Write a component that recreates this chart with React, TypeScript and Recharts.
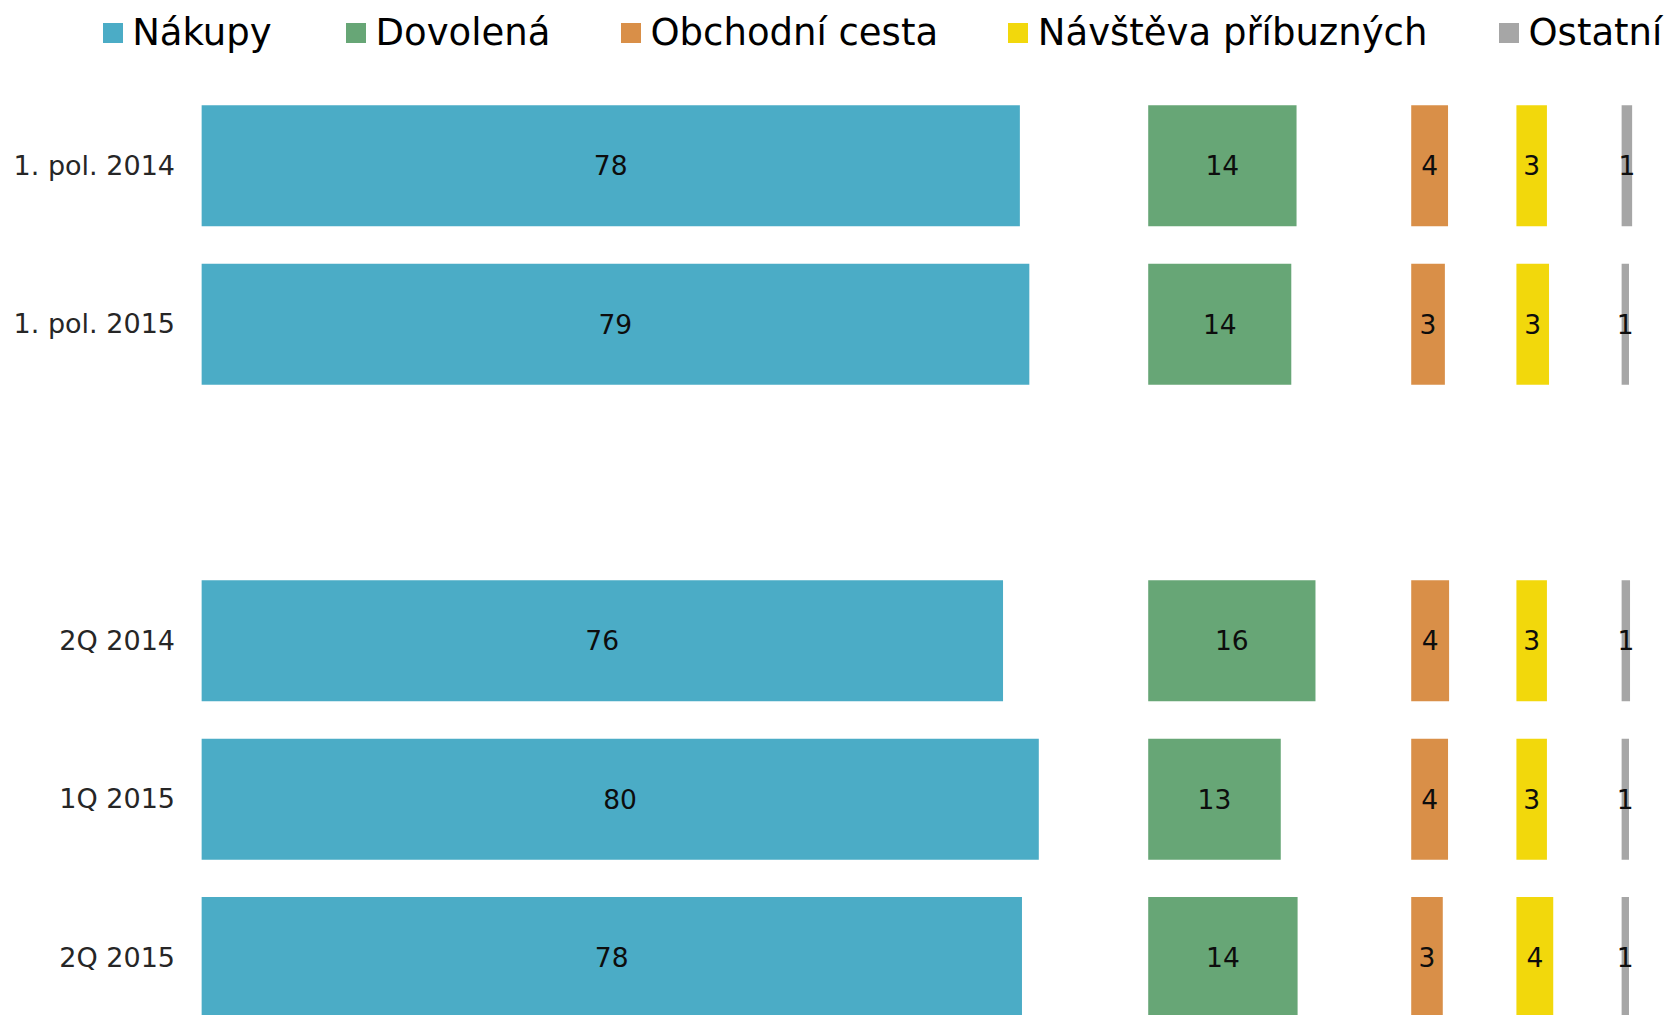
import React from 'react';
import { BarChart, Bar, XAxis, YAxis, LabelList, Legend } from 'recharts';

const categories = ['1. pol. 2014', '1. pol. 2015', '', '2Q 2014', '1Q 2015', '2Q 2015'];
const nakupy = [77.8, 78.7, null, 76.2, 79.6, 78.0];
const dovolena = [14.1, 13.6, null, 15.9, 12.6, 14.2];
const obchodni = [3.5, 3.2, null, 3.6, 3.5, 3.0];
const navsteva = [2.9, 3.1, null, 2.9, 2.9, 3.5];
const ostatni = [1.0, 0.7, null, 0.8, 0.7, 0.7];

const seriesNames = ['Nákupy', 'Dovolená', 'Obchodní cesta', 'Návštěva příbuzných', 'Ostatní'];
const seriesKeys = ['nakupy', 'dovolena', 'obchodni', 'navsteva', 'ostatni'];
const seriesColors = ['#4BACC6', '#67A676', '#D98F48', '#F2D80C', '#A6A6A6'];
// start of each panel on the shared value axis
const panelStarts = [0, 90, 115, 125, 135];

const seriesValues = [nakupy, dovolena, obchodni, navsteva, ostatni];

const data = categories.map((cat, i) => {
  const row: any = { cat };
  seriesKeys.forEach((k, s) => {
    const v = seriesValues[s][i];
    row[k] = v;
    if (s > 0) {
      const prev = seriesValues[s - 1][i];
      row['gap' + s] = prev == null ? null : panelStarts[s] - panelStarts[s - 1] - prev;
    }
  });
  return row;
});

const FONT = '"DejaVu Sans", Verdana, sans-serif';
const legendLefts = [102.7, 346, 621, 1008.3, 1499];

const renderLegend = () => (
  <div style={{ position: 'relative', width: 1671, height: 60, fontFamily: FONT }}>
    {seriesNames.map((n, i) => (
      <div key={n} style={{ position: 'absolute', left: legendLefts[i], top: 10.5, display: 'flex', alignItems: 'flex-start' }}>
        <div style={{ width: 20, height: 20, background: seriesColors[i], marginTop: 12, marginRight: 9.5 }} />
        <span style={{ fontSize: 37, lineHeight: '43px', color: '#000', whiteSpace: 'nowrap' }}>{n}</span>
      </div>
    ))}
  </div>
);

const fmt = (v: any) => (v == null ? '' : Math.round(Number(v)));

export default function App() {
  return (
    <div style={{ position: 'fixed', left: 0, top: 0, width: 1671, height: 1015, overflow: 'hidden', background: '#fff' }}>
      <BarChart
        width={1671}
        height={1040}
        data={data}
        layout="vertical"
        barSize={121}
        margin={{ top: 86.35, right: 7.3, bottom: 3.65, left: 0 }}
        style={{ fontFamily: FONT }}
      >
        <XAxis type="number" domain={[0, 139]} hide allowDataOverflow />
        <YAxis
          type="category"
          dataKey="cat"
          width={201.4}
          axisLine={false}
          tickLine={false}
          tickSize={0}
          tickMargin={26.4}
          interval={0}
          tick={{ fill: '#262626', fontSize: 27, fontFamily: FONT }}
        />
        <Legend
          verticalAlign="middle"
          align="center"
          layout="horizontal"
          wrapperStyle={{ left: 0, top: 0, width: 1671, height: 60 }}
          content={renderLegend}
        />
        {seriesKeys.map((k, s) => {
          const items = [];
          if (s > 0) {
            items.push(
              <Bar key={'gap' + s} dataKey={'gap' + s} stackId="a" fill="transparent" legendType="none" isAnimationActive={false} />
            );
          }
          items.push(
            <Bar key={k} dataKey={k} name={seriesNames[s]} stackId="a" fill={seriesColors[s]} isAnimationActive={false}>
              <LabelList dataKey={k} position="center" formatter={fmt} fill="#0d0d0d" fontSize={26.5} fontFamily={FONT} />
            </Bar>
          );
          return items;
        })}
      </BarChart>
    </div>
  );
}
